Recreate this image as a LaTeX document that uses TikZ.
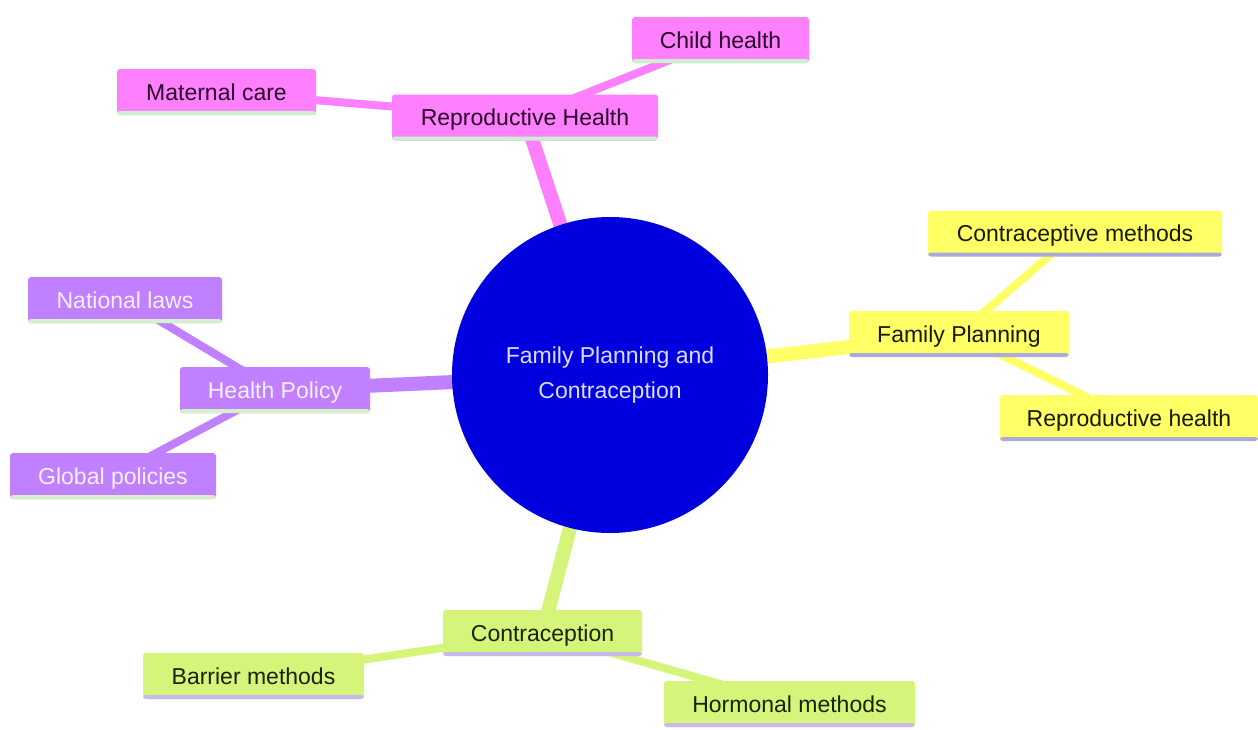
\documentclass[tikz,border=0pt]{standalone}
\usepackage{fontspec}
\setmainfont{Liberation Sans}
\usetikzlibrary{calc}
\pgfdeclarelayer{bg}
\pgfsetlayers{bg,main}
\definecolor{pinkfill}{RGB}{255,128,255}
\definecolor{pinktext}{RGB}{40,0,40}
\definecolor{pinkul}{RGB}{204,240,204}
\definecolor{yellowfill}{RGB}{255,255,102}
\definecolor{yellowtext}{RGB}{25,25,0}
\definecolor{yellowul}{RGB}{170,170,221}
\definecolor{purplefill}{RGB}{192,128,255}
\definecolor{purpletext}{RGB}{245,240,255}
\definecolor{purpleul}{RGB}{214,240,200}
\definecolor{greenfill}{RGB}{212,245,122}
\definecolor{greentext}{RGB}{25,35,0}
\definecolor{greenul}{RGB}{200,185,235}
\definecolor{rootblue}{RGB}{0,0,222}
\definecolor{roottext}{RGB}{220,220,255}
\begin{document}
\begin{tikzpicture}[x=1pt,y=-1pt,
  box/.style={rectangle, rounded corners=3pt, minimum height=46pt, inner sep=0pt,
    text height=18pt, text depth=1.5pt,
    font=\fontsize{23}{27}\selectfont},
  ulbox/.style={path picture={\fill[#1] ([yshift=4pt]path picture bounding box.south west) rectangle (path picture bounding box.south east);}},
  pinkbox/.style={box, fill=pinkfill, text=pinktext, ulbox=pinkul},
  yellowbox/.style={box, fill=yellowfill, text=yellowtext, ulbox=yellowul},
  purplebox/.style={box, fill=purplefill, text=purpletext, ulbox=purpleul},
  greenbox/.style={box, fill=greenfill, text=greentext, ulbox=greenul},
  rootnode/.style={circle, fill=rootblue, text=roottext, minimum size=316pt, inner sep=0pt,
    align=center, font=\fontsize{23}{35}\selectfont},
  mainedge/.style={line width=14pt},
  subedge/.style={line width=8pt},
]
\useasboundingbox (0,0) rectangle (1258,729);

% root
\node[rootnode] (root) at (610,375) {Family Planning and\\Contraception};

% reproductive health branch
\node[pinkbox, minimum width=266pt] (rh) at (525,117.5) {Reproductive Health};
\node[pinkbox, minimum width=177pt] (child) at (720.5,40) {Child health};
\node[pinkbox, minimum width=199pt] (maternal) at (216.5,92) {Maternal care};

% family planning branch
\node[yellowbox, minimum width=220pt] (fp) at (959,334) {Family Planning};
\node[yellowbox, minimum width=294pt] (cm) at (1075,233.5) {Contraceptive methods};
\node[yellowbox, minimum width=258pt] (reph) at (1129,418) {Reproductive health};

% health policy branch
\node[purplebox, minimum width=190pt] (hp) at (275,390) {Health Policy};
\node[purplebox, minimum width=194pt] (nl) at (125,300) {National laws};
\node[purplebox, minimum width=206pt] (gp) at (113,476) {Global policies};

% contraception branch
\node[greenbox, minimum width=199pt] (contr) at (542.5,633) {Contraception};
\node[greenbox, minimum width=221pt] (barrier) at (253.5,676) {Barrier methods};
\node[greenbox, minimum width=251pt] (hormonal) at (789.5,704) {Hormonal methods};

\begin{pgfonlayer}{bg}
  \draw[mainedge, pinkfill] (root.center) -- (rh.center);
  \draw[mainedge, yellowfill] (root.center) -- (fp.center);
  \draw[mainedge, purplefill] (root.center) -- (hp.center);
  \draw[mainedge, greenfill] (root.center) -- (contr.center);
  \draw[subedge, pinkfill] (rh.center) -- (child.center);
  \draw[subedge, pinkfill] (rh.center) -- (maternal.center);
  \draw[subedge, yellowfill] (fp.center) -- (cm.center);
  \draw[subedge, yellowfill] (fp.center) -- (reph.center);
  \draw[subedge, purplefill] (hp.center) -- (nl.center);
  \draw[subedge, purplefill] (hp.center) -- (gp.center);
  \draw[subedge, greenfill] (contr.center) -- (barrier.center);
  \draw[subedge, greenfill] (contr.center) -- (hormonal.center);
\end{pgfonlayer}
\end{tikzpicture}
\end{document}
